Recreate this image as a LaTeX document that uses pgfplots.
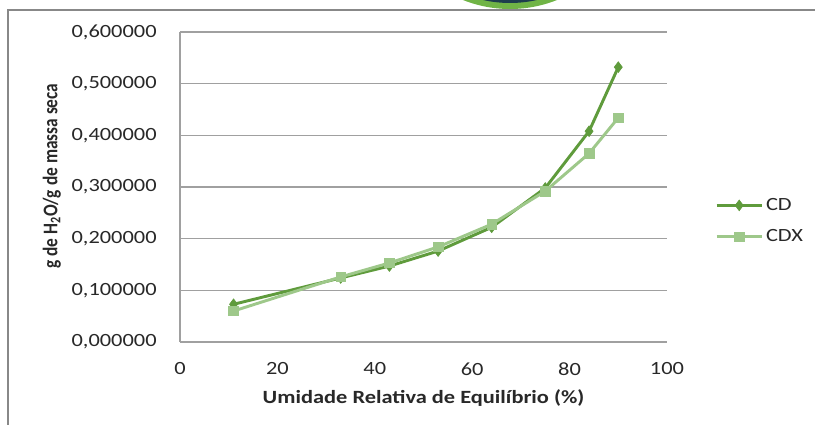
\documentclass[border=0pt]{standalone}
\usepackage{pgfplots}
\pgfplotsset{compat=1.18}
\usepackage{fontspec}
\setmainfont{Carlito}
\newfontfamily\wide{Carlito}[FakeStretch=1.2]
\definecolor{cdc}{RGB}{95,155,60}
\definecolor{cdxc}{RGB}{158,200,138}
\definecolor{gridc}{RGB}{160,160,160}
\definecolor{framec}{RGB}{136,136,136}
\definecolor{txt}{RGB}{40,40,40}
\definecolor{ringc}{RGB}{112,180,70}
\definecolor{darkc}{RGB}{30,62,78}
\begin{document}
\begin{tikzpicture}
\path[use as bounding box] (0,0) rectangle (611.25pt,318.75pt);
\begin{scope}[x=0.75pt,y=0.75pt]
\clip (0,0) rectangle (815,425);
\fill[ringc] (510,543) circle (127);
\fill[darkc] (510,543) circle (121);
\draw[framec, line width=0.8pt] (8,0) -- (8,415) -- (815,415);
\end{scope}
\begin{axis}[
  at={(135pt,62.25pt)}, anchor=south west,
  width=365.25pt, height=232.5pt, scale only axis,
  xmin=0, xmax=100, ymin=0, ymax=0.6,
  xtick={0,20,40,60,80,100},
  ytick={0,0.1,0.2,0.3,0.4,0.5,0.6},
  axis lines*=left,
  axis line style={gridc, line width=0.8pt},
  ymajorgrids, grid style={gridc, line width=0.8pt},
  major tick length=0pt,
  tick style={draw=none},
  /pgf/number format/assume math mode=true,
  yticklabel={\pgfmathprintnumber[fixed, fixed zerofill, precision=6, use comma]{\tick}},
  xticklabel={\pgfmathprintnumber{\tick}},
  ticklabel style={font=\wide\fontsize{14}{16}\selectfont, text=txt},
  yticklabel style={xshift=-14pt},
  xticklabel style={yshift=-12pt},
  xlabel={\textbf{Umidade Relativa de Equilíbrio (\%)}},
  ylabel={\textbf{g de H\textsubscript{2}O/g de massa seca}},
  xlabel style={font=\wide\fontsize{14}{16}\selectfont, text=txt, at={(axis description cs:0.5,-0.18)}, anchor=center},
  ylabel style={font=\fontsize{13}{15}\selectfont, text=txt, at={(axis description cs:-0.263,0.535)}, anchor=center, yscale=1.2},
  legend style={at={(1.09,0.39)}, anchor=west, draw=none, fill=none,
    font=\wide\fontsize{14}{16}\selectfont, row sep=9pt, text=txt,
    /tikz/every even column/.append style={column sep=2pt}},
  legend cell align=left,
  legend image code/.code={\draw[#1, mark repeat=2, mark phase=2] plot coordinates {(0pt,0pt) (17pt,0pt) (34pt,0pt)};},
  clip=false,
]
\addplot[cdc, line width=2.2pt, mark=diamond*, mark size=4pt, mark options={solid, fill=cdc, line width=0.5pt}]
coordinates {(11,0.073) (33,0.124) (43,0.147) (53,0.176) (64,0.222) (75,0.298) (84,0.408) (90,0.532)};
\addlegendentry{CD}
\addplot[cdxc, line width=2.2pt, mark=square*, mark size=3.6pt, mark options={solid, fill=cdxc, line width=0.5pt}]
coordinates {(11,0.060) (33,0.126) (43,0.153) (53,0.184) (64,0.228) (75,0.292) (84,0.365) (90,0.434)};
\addlegendentry{CDX}
\end{axis}
\end{tikzpicture}
\end{document}
